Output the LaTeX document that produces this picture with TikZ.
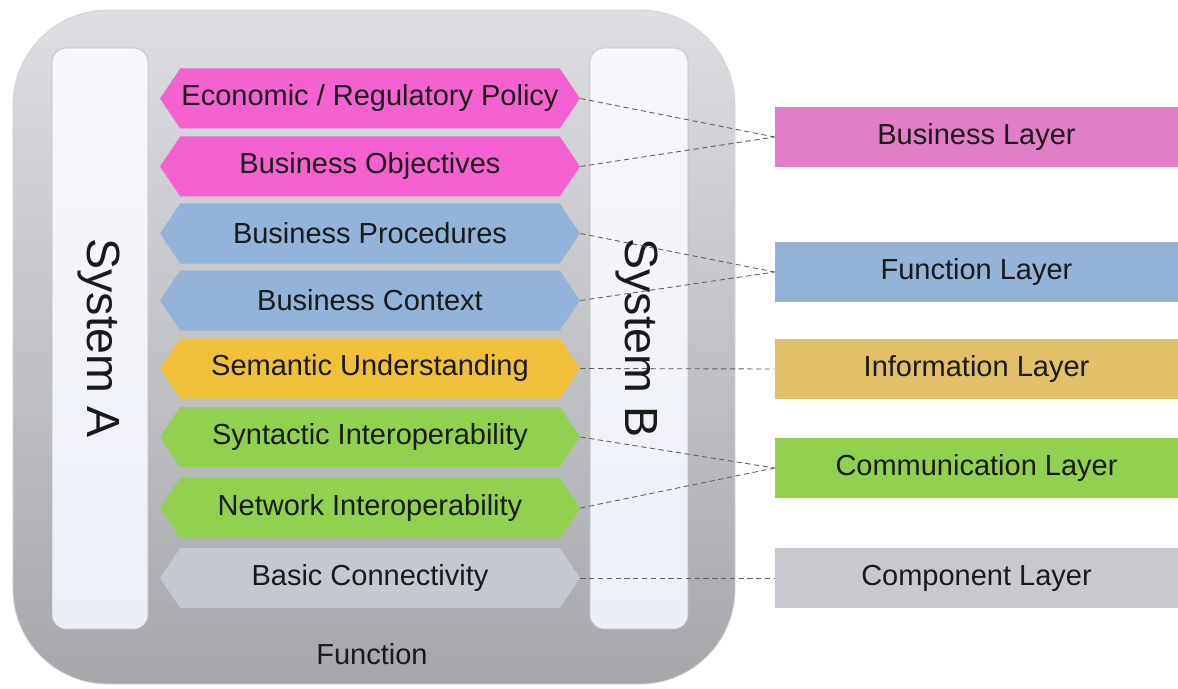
\documentclass[tikz,border=0pt]{standalone}
\usepackage{fontspec}
\setmainfont{Liberation Sans}
\usepackage{tikz}
\usetikzlibrary{shapes.symbols}

\definecolor{frameTop}{RGB}{221,222,226}
\definecolor{frameBottom}{RGB}{166,167,171}
\definecolor{panelTop}{RGB}{247,248,251}
\definecolor{panelBottom}{RGB}{236,239,247}
\definecolor{hexPink}{RGB}{244,98,210}
\definecolor{hexBlue}{RGB}{148,179,216}
\definecolor{hexYellow}{RGB}{240,192,58}
\definecolor{hexGreen}{RGB}{146,208,80}
\definecolor{hexGray}{RGB}{197,200,208}
\definecolor{boxPink}{RGB}{224,126,198}
\definecolor{boxBlue}{RGB}{149,179,215}
\definecolor{boxGold}{RGB}{226,192,104}
\definecolor{boxGreen}{RGB}{146,208,80}
\definecolor{boxGray}{RGB}{200,201,206}
\definecolor{inkColor}{RGB}{26,26,26}

\tikzset{
	hexlayer/.style = {shape = signal, signal to = east and west, signal pointer angle = 112,
		minimum width = 8.4cm, minimum height = 1.2cm, inner sep = 0pt, fill = #1,
		text = inkColor, font = \fontsize{16.5}{20}\selectfont},
	layerbox/.style = {rectangle, minimum width = 8.06cm, minimum height = 1.2cm, inner sep = 0pt,
		fill = #1, text = inkColor, font = \fontsize{16.5}{20}\selectfont},
	link/.style = {dashed, dash pattern = on 3pt off 2pt, gray!75!black, line width = 0.5pt}
}

\begin{document}
\begin{tikzpicture}
	\useasboundingbox (0,0) rectangle (23.56,13.76);

	% outer frame
	\def \frameRadius {1.9cm};
	\shade [top color = frameTop, bottom color = frameBottom, rounded corners = \frameRadius, draw = gray!35] (0.26,0.08) rectangle (14.7,13.56);

	% the two systems
	\def \panelBottom {1.18};
	\def \panelTop {12.8};
	\shade [top color = panelTop, bottom color = panelBottom, rounded corners = 0.28cm, draw = gray!50] (1.04,\panelBottom) rectangle (2.96,\panelTop);
	\shade [top color = panelTop, bottom color = panelBottom, rounded corners = 0.28cm, draw = gray!50] (11.8,\panelBottom) rectangle (13.76,\panelTop);
	\node [rotate = -90, font = \fontsize{26.5}{30}\selectfont, text = inkColor] (systemA) at (1.98,7.0) {System A};
	\node [rotate = -90, font = \fontsize{26.5}{30}\selectfont, text = inkColor] (systemB) at (12.74,7.0) {System B};

	% interoperability levels
	\def \hexX {7.4};
	\node [hexlayer = hexPink] (ecoPolicy) at (\hexX,11.79) {Economic / Regulatory Policy};
	\node [hexlayer = hexPink] (busObjectives) at (\hexX,10.43) {Business Objectives};
	\node [hexlayer = hexBlue] (busProcedures) at (\hexX,9.09) {Business Procedures};
	\node [hexlayer = hexBlue] (busContext) at (\hexX,7.75) {Business Context};
	\node [hexlayer = hexYellow] (semUnderstanding) at (\hexX,6.39) {Semantic Understanding};
	\node [hexlayer = hexGreen] (synInterop) at (\hexX,5.02) {Syntactic Interoperability};
	\node [hexlayer = hexGreen] (netInterop) at (\hexX,3.60) {Network Interoperability};
	\node [hexlayer = hexGray] (basicConn) at (\hexX,2.20) {Basic Connectivity};

	\node [font = \fontsize{16.5}{20}\selectfont, text = inkColor] (functionLabel) at (7.44,0.68) {Function};

	% layers on the right
	\def \boxX {19.53};
	\node [layerbox = boxPink] (busLayer) at (\boxX,11.02) {Business Layer};
	\node [layerbox = boxBlue] (funLayer) at (\boxX,8.32) {Function Layer};
	\node [layerbox = boxGold] (infoLayer) at (\boxX,6.38) {Information Layer};
	\node [layerbox = boxGreen] (comLayer) at (\boxX,4.40) {Communication Layer};
	\node [layerbox = boxGray] (compLayer) at (\boxX,2.20) {Component Layer};

	% dashed links from levels to layers
	\draw [link] (ecoPolicy.east) -- (busLayer.west);
	\draw [link] (busObjectives.east) -- (busLayer.west);
	\draw [link] (busProcedures.east) -- (funLayer.west);
	\draw [link] (busContext.east) -- (funLayer.west);
	\draw [link] (semUnderstanding.east) -- (infoLayer.west);
	\draw [link] (synInterop.east) -- (comLayer.west);
	\draw [link] (netInterop.east) -- (comLayer.west);
	\draw [link] (basicConn.east) -- (compLayer.west);

\end{tikzpicture}
\end{document}
